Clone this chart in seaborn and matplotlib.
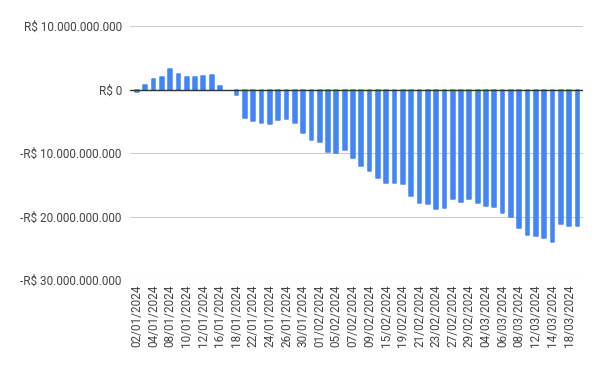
import matplotlib
matplotlib.use("Agg")
import matplotlib.pyplot as plt
import matplotlib.ticker as mticker
import pandas as pd
import seaborn as sns

# Trading days (dd/mm/yyyy) and daily accumulated balance in billions of R$
dates = [
    "02/01/2024", "03/01/2024", "04/01/2024", "05/01/2024", "08/01/2024",
    "09/01/2024", "10/01/2024", "11/01/2024", "12/01/2024", "15/01/2024",
    "16/01/2024", "17/01/2024", "18/01/2024", "19/01/2024", "22/01/2024",
    "23/01/2024", "24/01/2024", "25/01/2024", "26/01/2024", "29/01/2024",
    "30/01/2024", "31/01/2024", "01/02/2024", "02/02/2024", "05/02/2024",
    "06/02/2024", "07/02/2024", "08/02/2024", "09/02/2024", "14/02/2024",
    "15/02/2024", "16/02/2024", "19/02/2024", "20/02/2024", "21/02/2024",
    "22/02/2024", "23/02/2024", "26/02/2024", "27/02/2024", "28/02/2024",
    "29/02/2024", "01/03/2024", "04/03/2024", "05/03/2024", "06/03/2024",
    "07/03/2024", "08/03/2024", "11/03/2024", "12/03/2024", "13/03/2024",
    "14/03/2024", "15/03/2024", "18/03/2024", "19/03/2024",
]
saldo_bi = [
    -0.47, 0.68, 1.73, 1.94, 3.15, 2.50, 1.90, 1.90, 2.20, 2.25,
    0.63, 0.0, -0.94, -4.47, -4.94, -5.26, -5.50, -4.79, -4.72, -5.20,
    -6.77, -7.87, -8.19, -9.78, -10.05, -9.58, -10.85, -12.08, -12.80, -13.97,
    -14.76, -14.76, -14.90, -16.80, -17.90, -18.07, -18.85, -18.70, -17.20, -17.75,
    -17.20, -17.90, -18.38, -18.49, -19.43, -20.07, -21.80, -22.95, -23.10, -23.40,
    -24.05, -21.20, -21.48, -21.48,
]

df = pd.DataFrame({"data": dates, "saldo": [v * 1e9 for v in saldo_bi]})

sns.set_style("white")
plt.rcParams["font.family"] = ["Roboto", "DejaVu Sans"]

fig = plt.figure(figsize=(6, 3.71), dpi=100)
ax = fig.add_axes([0.217, 0.245, 0.755, 0.685])

sns.barplot(data=df, x="data", y="saldo", color="#4285F4", width=0.45,
            saturation=1, ax=ax)
# slightly rounded bar ends, like the original
for p in ax.patches:
    p.set_edgecolor("#4285F4")
    p.set_linewidth(1.1 if p.get_height() != 0 else 0)
    p.set_joinstyle("round")

ax.set_ylim(-30e9, 10e9)
ax.set_yticks([-30e9, -20e9, -10e9, 0, 10e9])


def brl(v, pos):
    n = int(round(abs(v)))
    s = f"{n:,}".replace(",", ".")
    return ("-R$ " if v < 0 else "R$ ") + s


ax.yaxis.set_major_formatter(mticker.FuncFormatter(brl))
ax.set_xticks(range(0, len(dates), 2))
ax.set_xticklabels(dates[::2], rotation=90)
ax.set_xlim(-0.8, len(dates) - 0.3)

ax.grid(axis="y", color="#cccccc", linewidth=0.8)
ax.set_axisbelow(True)
ax.axhline(0, color="#333333", linewidth=1, zorder=1.5)
for s in ax.spines.values():
    s.set_visible(False)

ax.tick_params(axis="both", length=0, labelsize=8.5, labelcolor="#444444")
ax.tick_params(axis="y", pad=6)
ax.tick_params(axis="x", pad=3)
ax.set_xlabel("")
ax.set_ylabel("")

fig.savefig("out.png", dpi=100)
